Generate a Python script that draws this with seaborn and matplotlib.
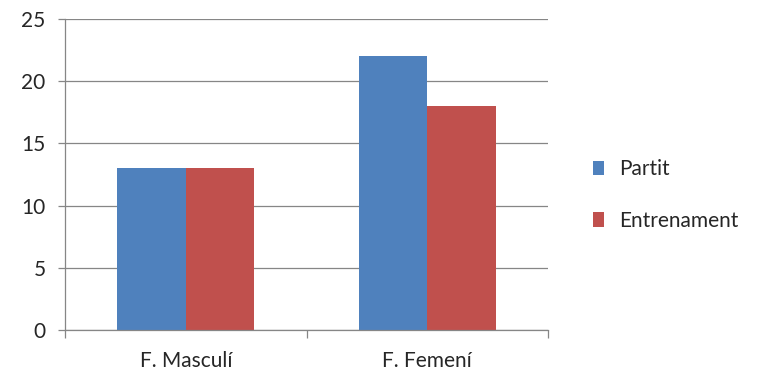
import matplotlib
matplotlib.use("Agg")
import matplotlib.pyplot as plt
import seaborn as sns
import pandas as pd
from matplotlib.patches import Patch

categories = ["F. Masculí", "F. Femení"]
series_names = ["Partit", "Entrenament"]
partit = [13, 22]
entrenament = [13, 18]
yticks = [0, 5, 10, 15, 20, 25]

df = pd.DataFrame({
    "cat": categories * 2,
    "serie": [series_names[0]] * 2 + [series_names[1]] * 2,
    "val": partit + entrenament,
})

sns.set_style("white")
plt.rcParams["font.family"] = ["Lato", "DejaVu Sans"]
colors = ["#4F81BD", "#C0504D"]
FS = 15

fig = plt.figure(figsize=(7.58, 3.8), dpi=100)
ax = fig.add_axes([65/758, 50/380, (548-65)/758, (330-19)/380])
sns.barplot(data=df, x="cat", y="val", hue="serie", hue_order=series_names,
            order=categories, palette=colors, width=0.567, ax=ax,
            saturation=1, legend=False, linewidth=0)
ax.set_xlim(-0.5, 1.5)
ax.set_ylim(0, 25)
ax.set_yticks(yticks)
ax.set_yticklabels([str(t) for t in yticks], fontsize=FS)
ax.yaxis.grid(True, color="#868686", linewidth=0.9)
ax.set_axisbelow(True)
for s in ["top", "right"]:
    ax.spines[s].set_visible(False)
for s in ["left", "bottom"]:
    ax.spines[s].set_color("#868686")
    ax.spines[s].set_linewidth(0.9)
ax.tick_params(axis="y", length=5, color="#868686", width=0.9, pad=9, left=True)
ax.tick_params(axis="x", length=0, labelsize=FS, pad=15)
ax.set_xticks([-0.5, 0.5, 1.5], minor=True)
ax.tick_params(axis="x", which="minor", length=6, color="#868686", width=0.9, bottom=True)
ax.set_xlabel("")
ax.set_ylabel("")

handles = [Patch(facecolor=c, edgecolor="none") for c in colors]
fig.legend(handles, series_names, loc="center left", bbox_to_anchor=(574/758, (380-195)/380),
           frameon=False, fontsize=FS, handlelength=0.55, handleheight=0.7,
           handletextpad=0.7, labelspacing=1.5)
fig.savefig("out.png", dpi=100)
